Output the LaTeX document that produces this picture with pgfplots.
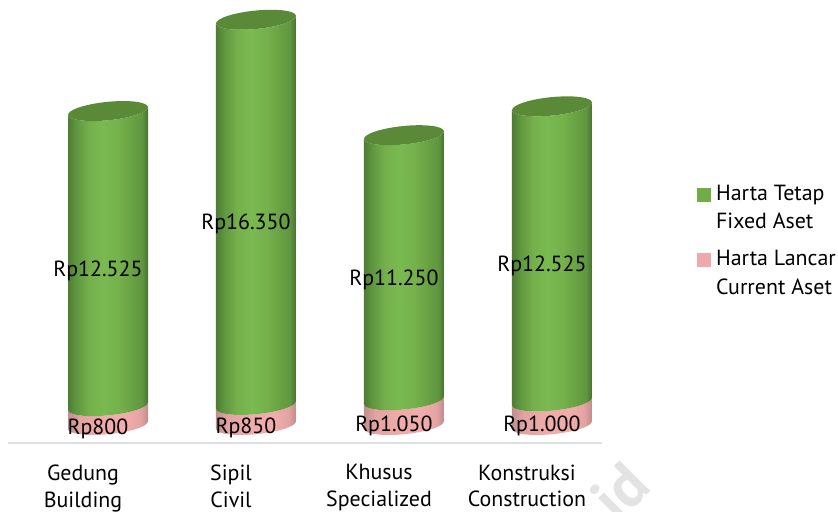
\documentclass[border=0pt]{standalone}
\usepackage{fontspec}
\setmainfont{PT Sans}
\usepackage{pgfplots}
\usepackage{pgfplotstable}
\pgfplotsset{compat=1.18}

\definecolor{gA}{HTML}{4F7D33}
\definecolor{gB}{HTML}{5F9640}
\definecolor{gC}{HTML}{74B04B}
\definecolor{gD}{HTML}{7ABA51}
\definecolor{gE}{HTML}{669F42}
\definecolor{gF}{HTML}{446E2C}
\definecolor{gtop}{HTML}{5A8A37}
\definecolor{pA}{HTML}{C08E8E}
\definecolor{pB}{HTML}{E3A3A3}
\definecolor{pC}{HTML}{F2ABAB}
\definecolor{pD}{HTML}{BD8A8A}
\definecolor{legG}{HTML}{70AD47}
\definecolor{legP}{HTML}{EEAAAA}
\definecolor{baseln}{HTML}{DDE0E3}

\pgfdeclarehorizontalshading{greencyl}{100bp}{color(0bp)=(gA); color(25bp)=(gA); color(30bp)=(gB); color(38bp)=(gC); color(47bp)=(gD); color(57bp)=(gC); color(66bp)=(gE); color(71bp)=(gB); color(75bp)=(gF); color(100bp)=(gF)}
\pgfdeclarehorizontalshading{pinkcyl}{100bp}{color(0bp)=(pA); color(25bp)=(pA); color(32bp)=(pB); color(48bp)=(pC); color(62bp)=(pC); color(70bp)=(pB); color(75bp)=(pD); color(100bp)=(pD)}

\pgfdeclareplotmark{nil}{}

% y scale of the axis: 438bp over 18590 units
\newcommand{\cylbody}[2]{%
  \pgfmathsetmacro{\hh}{#1*0.023561}%
  \path[draw=none, shading=#2]
    (-40bp,-4bp) .. controls (-39.49bp,-9.05bp) and (-21.17bp,-11.36bp) .. (.92bp,-9.15bp)
    .. controls (23.01bp,-6.94bp) and (40.51bp,-1.05bp) .. (40bp,4bp)
    -- ({40bp},{(\hh+4)*1bp})
    .. controls ({40.51bp},{(\hh-1.05)*1bp}) and ({23.01bp},{(\hh-6.94)*1bp}) .. ({.92bp},{(\hh-9.15)*1bp})
    .. controls ({-21.17bp},{(\hh-11.36)*1bp}) and ({-39.49bp},{(\hh-9.05)*1bp}) .. ({-40bp},{(\hh-4)*1bp})
    -- cycle;%
}
\newcommand{\cylcap}{%
  \path[draw=none, fill=gtop]
    (-40bp,-4bp) .. controls (-39.49bp,-9.05bp) and (-21.17bp,-11.36bp) .. (.92bp,-9.15bp)
    .. controls (23.01bp,-6.94bp) and (40.51bp,-1.05bp) .. (40bp,4bp)
    .. controls (39.49bp,9.05bp) and (21.17bp,11.36bp) .. (-.92bp,9.15bp)
    .. controls (-23.01bp,6.94bp) and (-40.51bp,1.05bp) .. (-40bp,-4bp)
    -- cycle;%
}

\pgfplotstableread{
x lancar tetap total labL labT
0 800 12525 13325 Rp800 Rp12.525
1 850 16350 17200 Rp850 Rp16.350
2 1050 11250 12300 Rp1.050 Rp11.250
3 1000 12525 13525 Rp1.000 Rp12.525
}\aset

\begin{document}
\begin{tikzpicture}
\path[use as bounding box] (0,0) rectangle (838bp,512bp);
\node[rotate=45,text=black!11,font=\fontsize{62}{62}\selectfont\bfseries] at (620bp,21bp) {id};
\begin{axis}[
  at={(8bp,69bp)}, anchor=south west,
  scale only axis, width=594bp, height=438bp,
  xmin=-0.6757, xmax=3.338,
  ymin=-764, ymax=17826,
  clip=false,
  axis y line=none,
  axis x line=bottom,
  x axis line style={draw=baseln, line width=2bp, -},
  xtick={0,1,2,3},
  xticklabels={Gedung\\Building,Sipil\\Civil,Khusus\\Specialized,Konstruksi\\Construction},
  major tick length=0pt,
  xticklabel style={align=center, xshift=-25bp, yshift=-18bp, font=\fontsize{22}{27}\selectfont},
  legend style={at={(axis description cs:1.153,0.598)}, anchor=north west, draw=none, fill=none,
    font=\fontsize{22}{28.5}\selectfont, cells={align=left, anchor=west}, /tikz/row sep=16bp},
  legend cell align=left,
]
\addlegendimage{legend image code/.code={\fill[legG] (1bp,7bp) rectangle (14bp,20bp); \path[draw=none] (0bp,7bp) -- (18bp,7bp);}}
\addlegendentry{Harta Tetap\\Fixed Aset}
\addlegendimage{legend image code/.code={\fill[legP] (1bp,7bp) rectangle (14bp,20bp); \path[draw=none] (0bp,7bp) -- (18bp,7bp);}}
\addlegendentry{Harta Lancar\\Current Aset}

% pink segments
\addplot[forget plot, scatter, only marks, mark=nil,
  visualization depends on={\thisrow{lancar} \as \hval},
  scatter/@pre marker code/.code={\cylbody{\hval}{pinkcyl}},
  scatter/@post marker code/.code={}]
  table[x=x, y expr=0] {\aset};
% green segments
\addplot[forget plot, scatter, only marks, mark=nil,
  visualization depends on={\thisrow{tetap} \as \hval},
  scatter/@pre marker code/.code={\cylbody{\hval}{greencyl}},
  scatter/@post marker code/.code={}]
  table[x=x, y=lancar] {\aset};
% top caps
\addplot[forget plot, scatter, only marks, mark=nil,
  scatter/@pre marker code/.code={\cylcap},
  scatter/@post marker code/.code={}]
  table[x=x, y=total] {\aset};
% value labels
\addplot[forget plot, only marks, mark=none, point meta=explicit symbolic,
  nodes near coords, every node near coord/.style={anchor=center, xshift=-10bp, yshift=-13bp, font=\fontsize{22}{24}\selectfont, text=black}]
  table[x=x, y expr=\thisrow{lancar}/2, meta=labL] {\aset};
\addplot[forget plot, only marks, mark=none, point meta=explicit symbolic,
  nodes near coords, every node near coord/.style={anchor=center, xshift=-10bp, yshift=-12bp, font=\fontsize{22}{24}\selectfont, text=black}]
  table[x=x, y expr=\thisrow{lancar}+\thisrow{tetap}/2, meta=labT] {\aset};
\end{axis}
\end{tikzpicture}
\end{document}
